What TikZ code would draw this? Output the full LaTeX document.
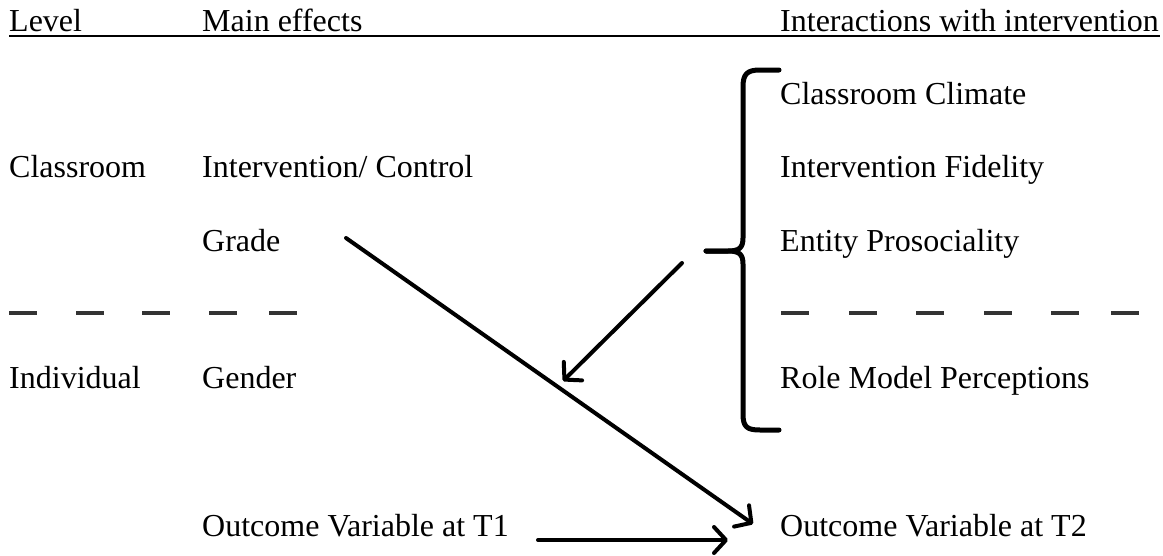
\documentclass[tikz,border=0pt]{standalone}
\usepackage{fontspec}
\setmainfont{Liberation Serif}
\usepackage{tikz}
\usetikzlibrary{arrows.meta}

\tikzset{
  lbl/.style={anchor=base west, inner sep=0pt, font=\fontsize{32}{38}\selectfont},
  link/.style={line width=4pt, line cap=round,
    -{Straight Barb[length=12pt, width=26pt, round]}},
  sepdash/.style={line width=4pt, black!80},
}

\begin{document}
\begin{tikzpicture}[x=1pt, y=-1pt]
        \useasboundingbox (0,0) rectangle (1163,555);

        % Header row
        \node[lbl] (lvl) at (9,31) {Level};
        \node[lbl] (main) at (202,31) {Main effects};
        \node[lbl] (inter) at (780,31) {Interactions with intervention};
        \draw[line width=2pt] (9,35.5) -- (1160,35.5);

        % Left columns
        \node[lbl] (cls) at (9,177) {Classroom};
        \node[lbl] (ind) at (9,388) {Individual};
        \node[lbl] (ctrl) at (202,177) {Intervention/ Control};
        \node[lbl] (grade) at (202,251) {Grade};
        \node[lbl] (gender) at (202,388) {Gender};
        \node[lbl] (t1) at (202,536) {Outcome Variable at T1};

        % Right column
        \node[lbl] (climate) at (780,104) {Classroom Climate};
        \node[lbl] (fidel) at (780,177) {Intervention Fidelity};
        \node[lbl] (prosoc) at (780,251) {Entity Prosociality};
        \node[lbl] (role) at (780,388) {Role Model Perceptions};
        \node[lbl] (t2) at (780,536) {Outcome Variable at T2};

        % Level separators
        \foreach \x in {9,76,142,209,269,781,849,916,984,1051,1111} {
            \draw[sepdash] (\x,313) -- ++(28,0);
        }

        % Brace round the moderators
        \draw[line width=5pt, line cap=round, line join=round]
            (779,70) -- (760,70) .. controls (747,70) and (743,74) .. (743,87)
            -- (743,238) .. controls (743,248) and (739,251) .. (728,251) -- (706,251);
        \draw[line width=5pt, line cap=round, line join=round]
            (706,251) -- (728,251) .. controls (739,251) and (743,254) .. (743,264)
            -- (743,414) .. controls (743,427) and (747,430) .. (760,430) -- (779,430);

        % Paths
        \coordinate (g0) at (346,238);
        \coordinate (g1) at (753,524);
        \coordinate (m0) at (682,263);
        \coordinate (m1) at (563,381);
        \coordinate (o0) at (538,540);
        \coordinate (o1) at (728,540);

        \draw[link] (g0) -- (g1);
        \draw[link] (m0) -- (m1);
        \draw[link] (o0) -- (o1);
    \end{tikzpicture}
\end{document}
